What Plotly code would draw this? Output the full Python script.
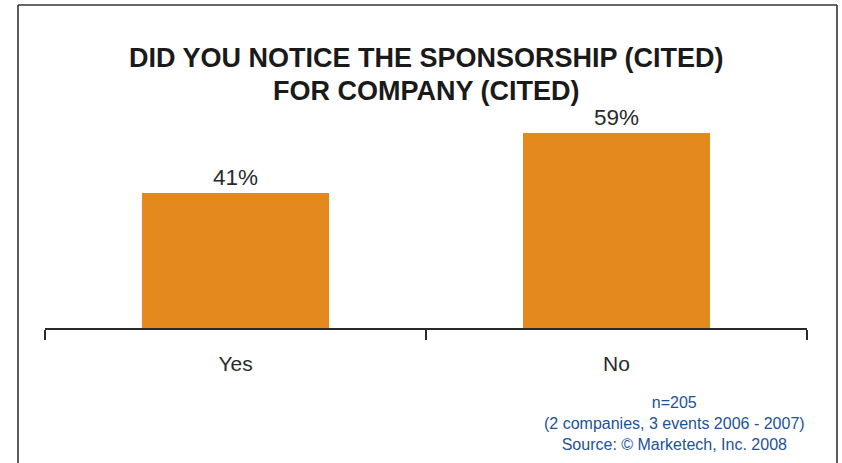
import plotly.graph_objects as go

# Survey answers and shares (%)
answers = ["Yes", "No"]
shares = [41, 59]
share_labels = ["41%", "59%"]

title_lines = ["DID YOU NOTICE THE SPONSORSHIP (CITED)", "FOR COMPANY (CITED)"]
footnote_lines = ["n=205", "(2 companies, 3 events 2006 - 2007)", "Source: \u00a9 Marketech, Inc. 2008"]

W, H = 842, 463
ML, MR, MT, MB = 45, 35, 100, 135
PW, PH = W - ML - MR, H - MT - MB
FONT = "Liberation Sans, Arial, Helvetica, sans-serif"
ORANGE = "#E3891E"
DARK = "#2a2a2a"
BLUE = "#1d5296"


def px_x(x):
    return (x - ML) / PW


def px_y(y):
    return (H - MB - y) / PH


fig = go.Figure(
    go.Bar(
        x=answers,
        y=shares,
        text=share_labels,
        textposition="outside",
        textfont=dict(family=FONT, size=22.5, color=DARK),
        marker=dict(color=ORANGE, line=dict(width=0)),
        width=0.49,
        cliponaxis=False,
    )
)

# Frame around the chart (open at the bottom)
frame = dict(type="line", xref="paper", yref="paper", line=dict(color="#333333", width=1.6))
fig.add_shape(**frame, x0=px_x(18), x1=px_x(18), y0=px_y(5), y1=px_y(480))
fig.add_shape(**frame, x0=px_x(837), x1=px_x(837), y0=px_y(5), y1=px_y(480))
fig.add_shape(**frame, x0=px_x(18), x1=px_x(837), y0=px_y(5), y1=px_y(5))

# Title
for line, ypx in zip(title_lines, [58, 91]):
    fig.add_annotation(
        text="<b>" + line + "</b>", xref="paper", yref="paper",
        x=px_x(426), y=px_y(ypx), xanchor="center", yanchor="middle", showarrow=False,
        font=dict(family=FONT, size=27, color="#1a1a1a"),
    )

# Sample / source note
fig.add_annotation(
    text="<br>".join(footnote_lines), xref="paper", yref="paper",
    x=px_x(674), y=px_y(392), xanchor="center", yanchor="top", align="center",
    showarrow=False, font=dict(family=FONT, size=16, color=BLUE),
)

fig.update_layout(
    width=W, height=H,
    margin=dict(l=ML, r=MR, t=MT, b=MB),
    paper_bgcolor="white", plot_bgcolor="white",
    showlegend=False,
    bargap=0,
    xaxis=dict(
        type="category",
        showline=True, linecolor=DARK, linewidth=1.6,
        ticks="outside", tickson="boundaries", ticklen=10, tickwidth=1.6, tickcolor=DARK,
        tickfont=dict(family=FONT, size=21, color=DARK),
        ticklabelstandoff=16,
        showgrid=False, zeroline=False,
    ),
    yaxis=dict(range=[0, 69], visible=False, showgrid=False, zeroline=False),
)

fig.write_html("out.html")
